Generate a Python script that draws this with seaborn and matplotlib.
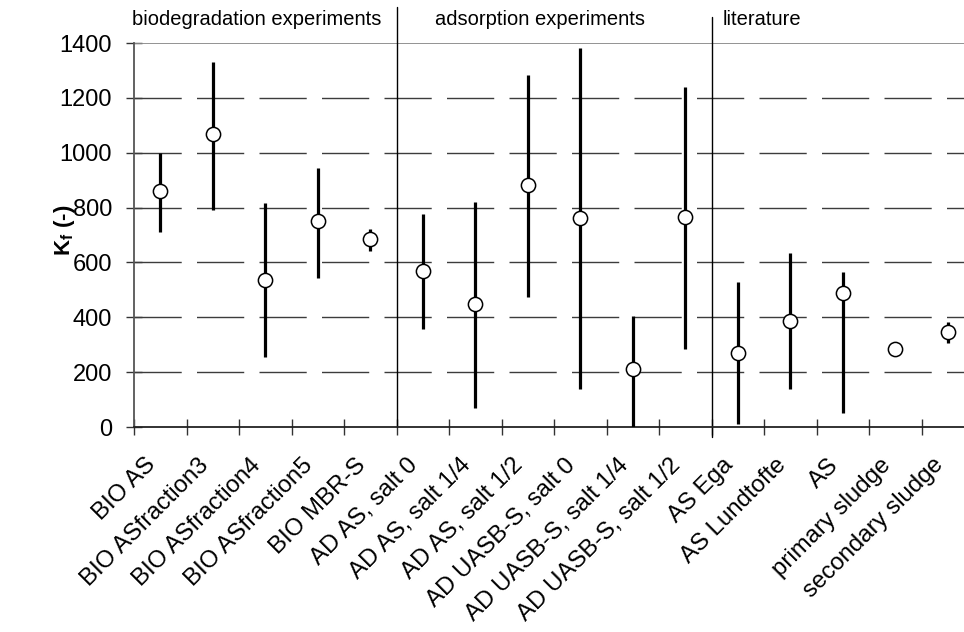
import numpy as np
import pandas as pd
import matplotlib
matplotlib.use("Agg")
import matplotlib.pyplot as plt
import seaborn as sns

# ---------------- data ----------------
categories = [
    "BIO AS", "BIO ASfraction3", "BIO ASfraction4", "BIO ASfraction5", "BIO MBR-S",
    "AD AS, salt 0", "AD AS, salt 1/4", "AD AS, salt 1/2",
    "AD UASB-S, salt 0", "AD UASB-S, salt 1/4", "AD UASB-S, salt 1/2",
    "AS Ega", "AS Lundtofte", "AS", "primary sludge", "secondary sludge",
]
kf_value = [860, 1068, 535, 750, 685, 570, 448, 882, 761, 211, 767, 269, 386, 490, 283, 346]
kf_low = [710, 790, 255, 543, 640, 357, 68, 473, 138, 0, 283, 10, 138, 52, 283, 306]
kf_high = [1000, 1330, 818, 945, 722, 776, 822, 1283, 1383, 406, 1240, 530, 633, 565, 283, 384]

section_names = ["biodegradation experiments", "adsorption experiments", "literature"]
section_label_x = [-0.54, 5.23, 10.72]
section_bounds = [4.5, 10.5]
y_ticks = [0, 200, 400, 600, 800, 1000, 1200, 1400]

# ---------------- style ----------------
sns.set_style("white")
plt.rcParams["font.family"] = ["Liberation Sans", "DejaVu Sans"]
plt.rcParams["mathtext.fontset"] = "custom"
plt.rcParams["mathtext.rm"] = "Liberation Sans"
plt.rcParams["mathtext.it"] = "Liberation Sans:italic"
plt.rcParams["mathtext.bf"] = "Liberation Sans:bold"
for key in ["text.color", "axes.labelcolor", "xtick.color", "ytick.color"]:
    plt.rcParams[key] = "black"

df = pd.DataFrame({"category": categories, "kf": kf_value,
                   "low": kf_low, "high": kf_high})
df["pos"] = np.arange(len(df))

W, H = 964, 632
fig = plt.figure(figsize=(W / 100, H / 100), dpi=100)
ax = fig.add_axes([134 / W, 1 - 427 / H, 840 / W, 384 / H])

# dashed gridlines
for v in y_ticks[1:-1]:
    ax.axhline(v, color="#3c3c3c", lw=1.0, dashes=(34, 11), zorder=1)
ax.axhline(y_ticks[-1], color="#8a8a8a", lw=1.3, zorder=1)

# error bars
ax.vlines(df["pos"], df["low"], df["high"], color="black", lw=2.3,
          zorder=3, capstyle="butt")
# points
sns.scatterplot(data=df, x="pos", y="kf", ax=ax, s=105, color="white",
                edgecolor="black", linewidth=1.1, zorder=4, legend=False)

ax.set_xlim(-0.5, len(categories) - 0.5)
ax.set_ylim(0, 1400)

# section separators
ax.plot([section_bounds[0]] * 2, [0, 1531], color="black", lw=1.0,
        clip_on=False, zorder=2)
ax.plot([section_bounds[1]] * 2, [-36, 1495], color="black", lw=1.0,
        clip_on=False, zorder=2)
for name, xs in zip(section_names, section_label_x):
    ax.text(xs, 1484, name, fontsize=14.5, ha="left", va="center",
            color="black")

# spines
for s in ["top", "right"]:
    ax.spines[s].set_visible(False)
ax.spines["left"].set_color("#555555")
ax.spines["left"].set_linewidth(1.3)
ax.spines["bottom"].set_color("#222222")
ax.spines["bottom"].set_linewidth(1.3)

# y axis
ax.set_yticks(y_ticks)
ax.set_yticklabels([str(t) for t in y_ticks])
ax.tick_params(axis="y", direction="inout", length=11.5, width=1.0,
               color="#333333", labelsize=17, pad=10, left=True,
               labelcolor="black")
ax.set_ylabel(r"$\mathbf{K_f}$ (-)", fontsize=16, fontweight="bold",
              color="black")
ax.yaxis.set_label_coords(-0.068, 0.513)

# x axis: ticks at category boundaries, labels near centres
ax.set_xticks(np.arange(-0.5, len(categories) + 0.5, 1))
ax.set_xticklabels([])
ax.set_xticks(df["pos"] - 0.15, minor=True)
ax.set_xticklabels(categories, minor=True, rotation=45, ha="right",
                   va="center", rotation_mode="anchor")
ax.tick_params(axis="x", which="major", direction="inout", length=11.5,
               width=1.0, color="#333333", bottom=True)
ax.tick_params(axis="x", which="minor", length=0, pad=25, labelsize=17.3,
               bottom=True, labelcolor="black")
ax.set_xlabel("")

fig.savefig("out.png", dpi=100)
